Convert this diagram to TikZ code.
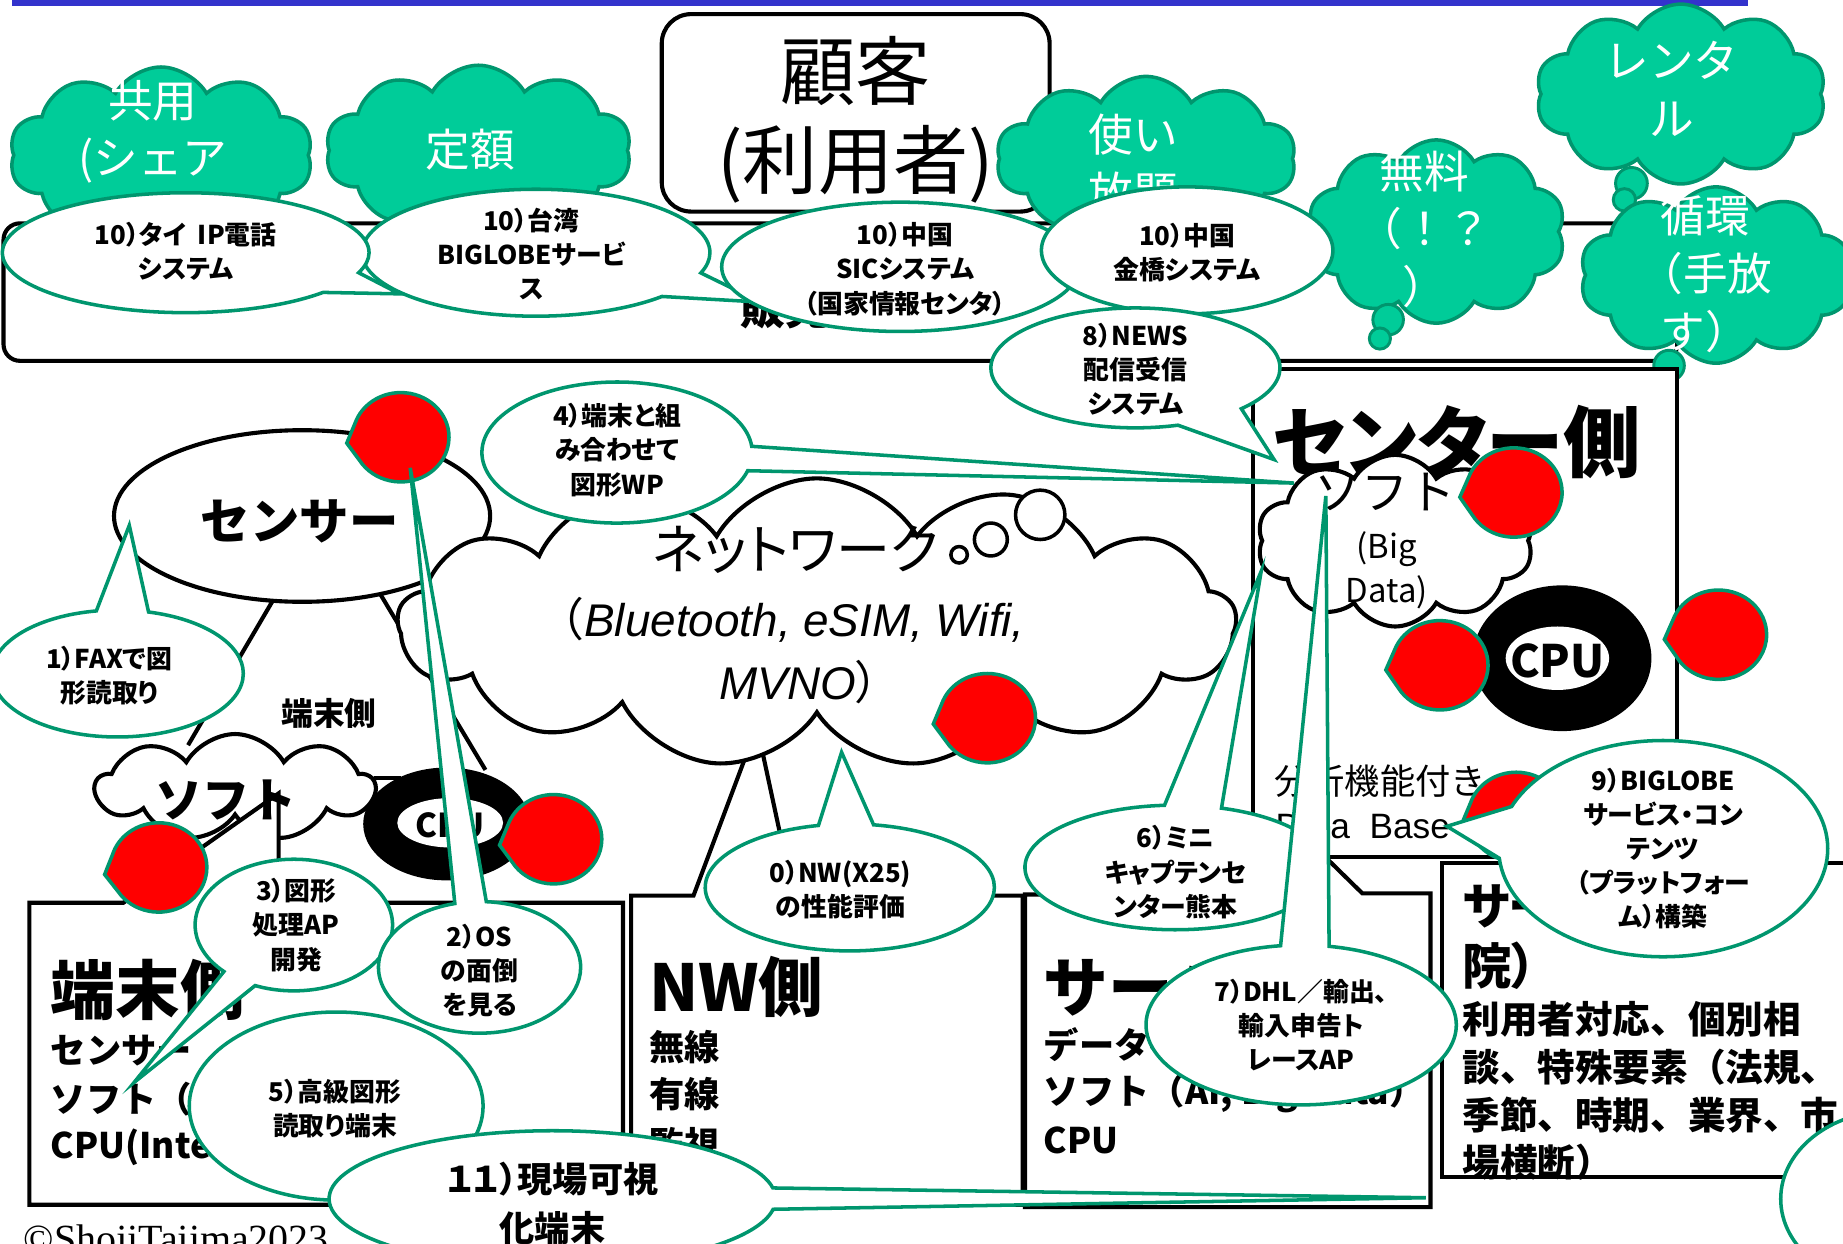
\documentclass[tikz,border=0pt]{standalone}
\usepackage{fontspec}
\usetikzlibrary{shapes.symbols,shapes.callouts,shapes.geometric}
\newfontfamily\jp{Noto Sans CJK JP}
\newfontfamily\jpp{Noto Sans CJK JP}[RawFeature=+palt]
\newfontfamily\ls{Liberation Sans}
\newfontfamily\lserif{Liberation Serif}
\definecolor{cgreen}{RGB}{0,204,153}
\definecolor{gborder}{RGB}{0,150,110}
\definecolor{barblue}{RGB}{51,51,204}
\tikzset{
  blk/.style={draw=black, line width=3.5pt, fill=white},
  gcloud/.style={cloud, cloud puffs=10, cloud puff arc=120, cloud ignores aspect, draw=gborder, fill=cgreen, line width=3pt, inner sep=0pt},
  gtail/.style={circle, draw=gborder, fill=cgreen, line width=2.5pt, inner sep=0pt},
  gtext/.style={font=\jp\fontsize{38}{49}\selectfont, text=white, align=center, inner sep=0pt},
  wcloud/.style={cloud, cloud puffs=11, cloud puff arc=120, cloud ignores aspect, draw=black, fill=white, line width=3.5pt, inner sep=0pt},
  co/.style={ellipse callout, draw=gborder, fill=white, line width=3pt, inner sep=0pt},
  coe/.style={ellipse, draw=gborder, fill=white, line width=3pt, inner sep=0pt},
  cot/.style={font=\jpp\bfseries\fontsize{22}{29}\selectfont, align=center, inner sep=0pt},
  reddot/.style={ellipse callout, draw=gborder, fill=red, line width=3pt, inner sep=0pt, minimum width=82pt, minimum height=76pt, callout pointer arc=50},
  boxtitle/.style={font=\jp\bfseries\fontsize{55}{55}\selectfont, anchor=west, inner sep=0pt},
  boxline/.style={font=\jp\bfseries\fontsize{30}{30}\selectfont, anchor=west, inner sep=0pt},
}
\begin{document}
\begin{tikzpicture}[x=1pt,y=-1pt]
\useasboundingbox (0,0) rectangle (1568,1058);
\clip (0,0) rectangle (1568,1058);
% top bar
\fill[barblue] (10,-2) rectangle (1487,5);
% customer area
\draw[blk, rounded corners=14pt] (3,190) rectangle (1427,307);
\node[draw, line width=3.5pt, rounded corners=25pt, fill=white, minimum width=330pt, minimum height=168pt, inner sep=0pt] (kokyaku) at (728,96) {};
\node[font=\jp\fontsize{64}{76}\selectfont, align=center, inner sep=0pt] (kokyakut) at (728,102) {顧客\\(利用者)};
\node[font=\jp\bfseries\fontsize{38}{38}\selectfont, anchor=base west, inner sep=0pt] (hanbai) at (630,276) {販売側};
% green clouds
\node[gcloud, minimum width=258pt, minimum height=150pt] (kyoyo) at (137,132) {};
\node[gtext, anchor=north] (kyoyot) at (130,68) {共用\\(シェア\\)};
\node[gcloud, minimum width=260pt, minimum height=145pt] (teigaku) at (407,128) {};
\node[gtext] (teigakut) at (400,127) {定額};
\node[gcloud, minimum width=255pt, minimum height=140pt] (tsukai) at (975,135) {};
\node[gtext, anchor=north] (tsukait) at (964,97) {使い\\放題};
\node[gcloud, minimum width=220pt, minimum height=156pt] (muryo) at (1222,197) {};
\node[gtail, minimum size=26pt] (muryo1) at (1181,272) {};
\node[gtail, minimum size=18pt] (muryo2) at (1174,288) {};
\node[gtext, anchor=north] (muryot) at (1212,128) {無料\\（！？\\）};
\node[gcloud, minimum width=247pt, minimum height=153pt] (rental) at (1430,80) {};
\node[gtail, minimum size=27pt] (rental1) at (1388,156) {};
\node[gtail, minimum size=19pt] (rental2) at (1382,170) {};
\node[gtext, anchor=north] (rentalt) at (1422,35) {レンタ\\ル};
\node[gcloud, minimum width=232pt, minimum height=150pt] (junkan) at (1460,234) {};
\node[gtail, minimum size=26pt] (junkan1) at (1420,311) {};
\node[gtail, minimum size=19pt] (junkan2) at (1412,327) {};
\node[gtext, anchor=north] (junkant) at (1451,166) {循環\\（手放\\す）};
% bottom boxes (rectangles with pointers)
\draw[blk] (537,762) -- (590,762) -- (644,618) -- (675,762) -- (870,762) -- (870,1025) -- (537,1025) -- cycle;
\draw[blk] (872,761) -- (1060,761) -- (1110,712) -- (1159,760) -- (1217,760) -- (1217,1027) -- (872,1027) -- cycle;
\draw[blk] (1227,734) rectangle (1640,1001);
% NW texts
\node[boxtitle] (nwt) at (552,840) {NW側};
\node[boxline] (nw1) at (552,891) {無線};
\node[boxline] (nw2) at (552,931) {有線};
\node[boxline] (nw3) at (552,973) {監視};
% server texts
\node[boxtitle] (svt) at (888,840) {サーバー側};
\node[boxline] (sv1) at (888,889) {データベース};
\node[boxline] (sv2) at (888,930) {ソフト（AI, Big Data）};
\node[boxline] (sv3) at (888,970) {CPU};
% service texts
\node[font=\jpp\bfseries\fontsize{42}{51}\selectfont, anchor=north west, align=left, inner sep=0pt] (svct) at (1244,750) {サービス側（病\\院）};
\node[font=\jp\bfseries\fontsize{32}{40.5}\selectfont, anchor=north west, align=left, inner sep=0pt] (svcb) at (1244,852) {利用者対応、個別相\\談、特殊要素（法規、\\季節、時期、業界、市\\場横断）};
% center side box
\draw[blk] (1066,314) rectangle (1427,729);
\node[font=\jpp\bfseries\fontsize{66}{66}\selectfont, anchor=west, inner sep=0pt] (centert) at (1082,376) {センター側};
\node[wcloud, cloud puffs=10, minimum width=235pt, minimum height=146pt] (ccloud) at (1187,460) {};
\node[font=\jp\fontsize{40}{40}\selectfont, inner sep=0pt] (ccloudt) at (1178,419) {ソフト};
\node[font=\jp\fontsize{28}{37}\selectfont, align=center, inner sep=0pt] (ccloudt2) at (1180,485) {(Big\\Data)};
\node[ellipse, fill=black, minimum width=152pt, minimum height=124pt, inner sep=0pt] (ccpu) at (1329,560) {};
\node[ellipse, fill=white, minimum width=88pt, minimum height=54pt, inner sep=0pt] (ccpuin) at (1325,560) {};
\node[font=\jp\bfseries\fontsize{38}{38}\selectfont, inner sep=0pt] (ccput) at (1325,562) {CPU};
\node[font=\jp\fontsize{30}{30}\selectfont, anchor=west, inner sep=0pt] (bunseki) at (1084,665) {分析機能付き};
\node[font=\ls\fontsize{30}{30}\selectfont, anchor=west, inner sep=0pt] (dbase) at (1085,703) {Data\ \ Base};
% sensor cone
\coordinate (conetip) at (279,431);
\coordinate (coneL) at (160,634);
\coordinate (coneR) at (413,655);
\draw[line width=3.5pt] (conetip) -- (coneL);
\draw[line width=3.5pt] (conetip) -- (coneR);
\node[ellipse, draw, line width=3.5pt, fill=white, minimum width=320pt, minimum height=146pt, inner sep=0pt] (sensor) at (257,439) {};
\node[font=\jp\bfseries\fontsize{42}{42}\selectfont, inner sep=0pt] (sensort) at (255,444) {センサー};
% network cloud
\node[wcloud, cloud puffs=13, minimum width=713pt, minimum height=246pt] (net) at (695,530) {};
\node[circle, draw, line width=3pt, fill=white, minimum size=14pt, inner sep=0pt] (netc1) at (816,472) {};
\node[circle, draw, line width=3pt, fill=white, minimum size=28pt, inner sep=0pt] (netc2) at (843,459) {};
\node[circle, draw, line width=3pt, fill=white, minimum size=42pt, inner sep=0pt] (netc3) at (885,438) {};
\node[font=\jpp\fontsize{46}{46}\selectfont, inner sep=0pt] (nett1) at (677,468) {ネットワーク};
\node[font=\fontsize{39}{39}\selectfont, inner sep=0pt] (nett2) at (665,527) {{\jp （}{\ls\itshape Bluetooth, eSIM, Wifi,}};
\node[font=\fontsize{39}{39}\selectfont, inner sep=0pt] (nett3) at (680,580) {{\ls\itshape MVNO}{\jpp ）}};
% terminal device
\node[font=\jp\bfseries\fontsize{27}{27}\selectfont, inner sep=0pt] (tanmatsu) at (280,607) {端末側};
\node[wcloud, cloud puffs=9, minimum width=237pt, minimum height=91pt] (tcloud) at (200,670) {};
\node[ellipse, fill=black, minimum width=142pt, minimum height=96pt, inner sep=0pt] (tcpu) at (380,701) {};
\node[ellipse, fill=white, minimum width=90pt, minimum height=42pt, inner sep=0pt] (tcpuin) at (383,700) {};
\node[font=\jp\bfseries\fontsize{28}{28}\selectfont, inner sep=0pt] (tcput) at (383,702) {CPU};
\coordinate (tlinea) at (318,662);
\coordinate (tlineb) at (341,662);
\draw[line width=3.5pt] (tlinea) -- (tlineb);
\draw[blk] (25,768) -- (105,768) -- (237,675) -- (237,768) -- (530,768) -- (530,1025) -- (25,1025) -- cycle;
\node[font=\jp\bfseries\fontsize{40}{40}\selectfont, inner sep=0pt] (tcloudt) at (192,681) {ソフト};
\node[boxtitle] (tbt) at (43,842) {端末側};
\node[boxline] (tb1) at (43,894) {センサー};
\node[boxline] (tb2) at (43,935) {ソフト（AI）};
\node[boxline] (tb3) at (43,976) {CPU(Intel)};
% red dots
\node[reddot, callout absolute pointer={(295,377)}] (r1) at (341,372) {};
\node[reddot, callout absolute pointer={(794,616)}] (r2) at (840,611) {};
\node[reddot, callout absolute pointer={(1242,423)}] (r3) at (1288,419) {};
\node[reddot, callout absolute pointer={(1179,570)}] (r4) at (1225,566) {};
\node[reddot, callout absolute pointer={(1416,544)}] (r5) at (1462,540) {};
\node[reddot, callout absolute pointer={(89,744)}] (r6) at (135,738) {};
\node[reddot, callout absolute pointer={(425,719)}] (r7) at (471,714) {};
\node[reddot, callout absolute pointer={(1244,700)}] (r8) at (1290,695) {};
% callouts
\node[co, minimum width=296pt, minimum height=108pt, callout absolute pointer={(647,257)}, callout pointer arc=25] (c10b) at (456,215) {};
\node[cot] (c10bt) at (452,216) {10）台湾\\BIGLOBEサービ\\ス};
\node[co, minimum width=312pt, minimum height=102pt, callout absolute pointer={(340,250)}, callout pointer arc=22] (c10a) at (158,215) {};
\node[cot] (c10at) at (158,214) {10）タイ~~IP電話\\システム};
\node[coe, minimum width=304pt, minimum height=110pt] (c10c) at (766,227) {};
\node[cot] (c10ct) at (770,229) {10）中国\\SICシステム\\（国家情報センタ）};
\node[coe, minimum width=248pt, minimum height=108pt] (c10d) at (1010,213) {};
\node[cot] (c10dt) at (1010,215) {10）中国\\金橋システム};
\node[co, minimum width=246pt, minimum height=102pt, callout absolute pointer={(1084,391)}, callout pointer arc=30] (c8) at (966,313) {};
\node[cot] (c8t) at (966,314) {8）NEWS\\配信受信\\システム};
\node[co, minimum width=230pt, minimum height=120pt, callout absolute pointer={(1101,411)}, callout pointer arc=20] (c4) at (525,385) {};
\node[cot] (c4t) at (525,383) {4）端末と組\\み合わせて\\図形WP};
\node[co, minimum width=214pt, minimum height=108pt, callout absolute pointer={(110,447)}, callout pointer arc=24] (c1) at (100,573) {};
\node[cot] (c1t) at (93,575) {1）FAXで図\\形読取り};
\node[co, minimum width=168pt, minimum height=112pt, callout absolute pointer={(114,921)}, callout pointer arc=22] (c3) at (250,787) {};
\node[cot] (c3t) at (252,787) {3）図形\\処理AP\\開発};
\node[co, minimum width=172pt, minimum height=112pt, callout absolute pointer={(349,398)}, callout pointer arc=18] (c2) at (408,823) {};
\node[cot] (c2t) at (408,826) {2）OS\\の面倒\\を見る};
\node[coe, minimum width=250pt, minimum height=160pt] (c5) at (286,941) {};
\node[cot] (c5t) at (285,943) {5）高級図形\\読取り端末};
\node[co, minimum width=246pt, minimum height=108pt, callout absolute pointer={(716,640)}, callout pointer arc=22] (c0) at (723,755) {};
\node[cot] (c0t) at (715,757) {0）NW(X25)\\の性能評価};
\node[co, minimum width=256pt, minimum height=106pt, callout absolute pointer={(1073,486)}, callout pointer arc=22] (c6) at (1000,738) {};
\node[cot] (c6t) at (1000,742) {6）ミニ\\キャプテンセ\\ンター熊本};
\node[co, minimum width=264pt, minimum height=136pt, callout absolute pointer={(1128,422)}, callout pointer arc=18] (c7) at (1107,872) {};
\node[cot] (c7t) at (1107,872) {7）DHL／輸出、\\輸入申告ト\\レースAP};
\node[co, minimum width=280pt, minimum height=184pt, callout absolute pointer={(1231,703)}, callout pointer arc=28] (c9) at (1415,722) {};
\node[cot] (c9t) at (1415,722) {9）BIGLOBE\\サービス・コン\\テンツ\\（プラットフォー\\ム）構築};
\node[co, minimum width=380pt, minimum height=116pt, callout absolute pointer={(1213,1019)}, callout pointer arc=18] (c11) at (470,1020) {};
\node[font=\jpp\bfseries\fontsize{30}{42}\selectfont, align=center, inner sep=0pt] (c11t) at (470,1024) {１１）現場可視\\化端末};
\node[coe, minimum width=190pt, minimum height=150pt] (c12) at (1610,1020) {};
% copyright
\node[font=\lserif\fontsize{34}{34}\selectfont, anchor=base west, inner sep=0pt] (copy) at (20,1066) {©ShojiTajima2023};
\end{tikzpicture}
\end{document}
